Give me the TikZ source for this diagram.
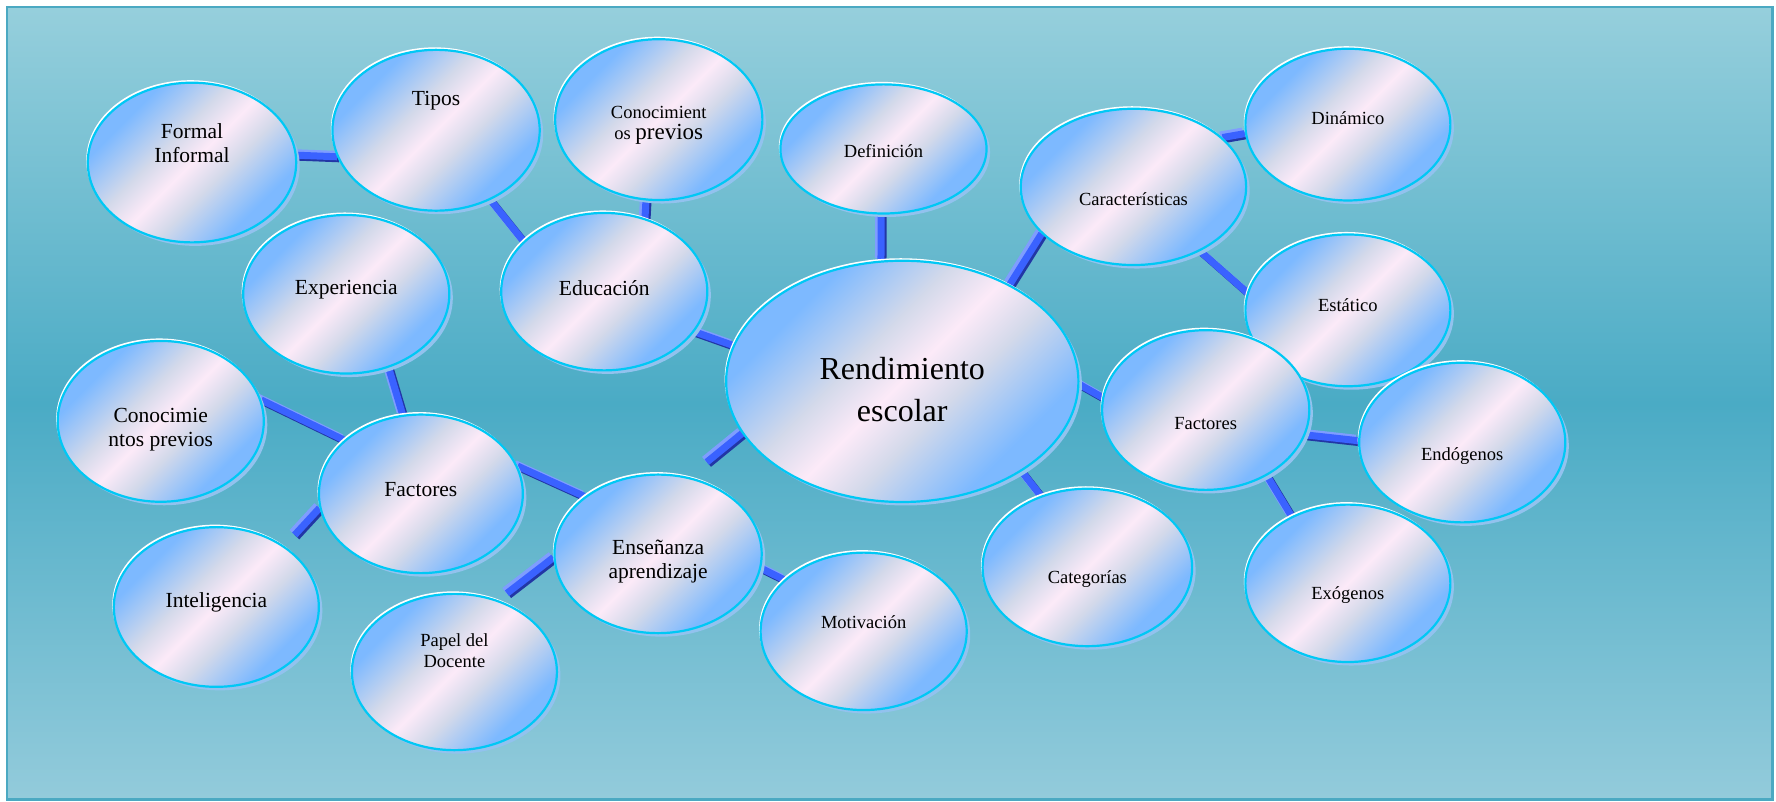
\documentclass[tikz,border=0pt]{standalone}
\usepackage{fontspec}
\setmainfont{Liberation Serif}
\usetikzlibrary{shapes.geometric,shadows}
\pgfdeclarelayer{bg}
\pgfdeclarelayer{conn}
\pgfsetlayers{bg,conn,main}
\def\pxu{1.1327}
\definecolor{bblue}{HTML}{7DB9FF}
\definecolor{bgray}{HTML}{D3D9EA}
\definecolor{bpink}{HTML}{FCEAF8}
\definecolor{ringc}{HTML}{00C8F5}
\definecolor{shadowc}{HTML}{92C2EE}
\definecolor{bgtop}{HTML}{96CFDC}
\definecolor{bgmid}{HTML}{4AABC5}
\definecolor{bgbot}{HTML}{93CBDB}
\definecolor{framec}{HTML}{4BA9C2}
\definecolor{barmain}{HTML}{3A62FF}
\definecolor{barlight}{HTML}{7F9DFF}
\definecolor{bardark}{HTML}{2236A5}
\pgfdeclarehorizontalshading{bubbleshade}{100bp}{color(0bp)=(bblue); color(29bp)=(bblue); color(42bp)=(bgray); color(50bp)=(bpink); color(58bp)=(bgray); color(71bp)=(bblue); color(100bp)=(bblue)}
\tikzset{
  bub/.style 2 args={ellipse, minimum width={2*#1*\pxu pt}, minimum height={2*#2*\pxu pt},
    inner sep=0pt, draw=ringc, line width=2.2pt, shading=bubbleshade, shading angle=-45,
    general shadow={fill=shadowc, shadow xshift=3.5pt, shadow yshift=-3.5pt},
    general shadow={fill=white, shadow xshift=-1.5pt, shadow yshift=2.5pt}},
  lbig/.style={font=\fontsize{21.5}{24.5}\selectfont, align=center, inner sep=0pt, text=black},
  lsmall/.style={font=\fontsize{18.5}{21.5}\selectfont, align=center, inner sep=0pt, text=black},
  lhuge/.style={font=\fontsize{32}{42}\selectfont, align=center, inner sep=0pt, text=black},
  bar/.style={line width=7pt, draw=barmain,
    preaction={draw=barlight, line width=7pt, transform canvas={shift={(-2.5pt,2.5pt)}}},
    preaction={draw=bardark, line width=7pt, transform canvas={shift={(2pt,-2pt)}}}},
}
\begin{document}
\begin{tikzpicture}[x=\pxu pt, y=-\pxu pt]
\useasboundingbox (0,0) rectangle (1568,708);
\begin{pgfonlayer}{bg}
\shade[top color=bgtop, bottom color=bgbot, middle color=bgmid] (6.2,6.2) rectangle (1565,706);
\draw[framec, line width=2.5pt] (6.2,6.2) rectangle (1565,706);
\end{pgfonlayer}

% nodes
\node[bub={92}{70.5}, label={[lbig,yshift={17*\pxu pt}]center:{Formal\\Informal}}] (formal) at (169.5,143.5) {};
\node[bub={91.5}{71}, label={[lbig,yshift={25.8*\pxu pt}]center:Tipos}] (tipos) at (385,115) {};
\node[bub={91.5}{71}, label={[lsmall,yshift={-5*\pxu pt}]center:{Conocimient\\os {\fontsize{23}{21.5}\selectfont previos}}}] (conoctop) at (581.6,105.6) {};
\node[bub={91}{57}, label={[lsmall,yshift={-1.6*\pxu pt}]center:Definición}] (def) at (780,131.5) {};
\node[bub={90.5}{67}, label={[lsmall,yshift={5.5*\pxu pt}]center:Dinámico}] (din) at (1190,110) {};
\node[bub={99.5}{69}, label={[lsmall,yshift={-11*\pxu pt}]center:Características}] (car) at (1000.7,165) {};
\node[bub={90.5}{67}, label={[lsmall,yshift={5*\pxu pt}]center:Estático}] (est) at (1190,274) {};
\node[bub={91}{70}, label={[lbig,yshift={3.7*\pxu pt}]center:Experiencia}] (exper) at (305.7,259.8) {};
\node[bub={91}{69.5}, label={[lbig,yshift={3.5*\pxu pt}]center:Educación}] (educ) at (533.5,257.5) {};
\node[bub={155.5}{106.5}, label={[lhuge,yshift={-7.3*\pxu pt}]center:{Rendimiento\\escolar}}] (rend) at (796.6,336.7) {};
\node[bub={91}{70.5}, label={[lsmall,yshift={-11.6*\pxu pt}]center:Endógenos}] (endo) at (1291,390.7) {};
\node[bub={91.5}{70.5}, label={[lsmall,yshift={-12*\pxu pt}]center:Factores}] (factR) at (1064.5,362) {};
\node[bub={90.5}{69.5}, label={[lsmall,yshift={-10*\pxu pt}]center:Exógenos}] (exo) at (1190,515) {};
\node[bub={92.5}{69.5}, label={[lsmall,yshift={-10.5*\pxu pt}]center:Categorías}] (cat) at (960,501) {};
\node[bub={91}{71}, label={[lbig,yshift={-7.2*\pxu pt}]center:{Conocimie\\ntos previos}}] (conocL) at (141.9,372) {};
\node[bub={90}{70}, label={[lbig,yshift={3.5*\pxu pt}]center:Factores}] (factL) at (371.6,436) {};
\node[bub={90.5}{70.5}, label={[lbig,yshift={4*\pxu pt}]center:Inteligencia}] (intel) at (191,535.9) {};
\node[bub={91.5}{70}, label={[lbig,yshift={-6.7*\pxu pt}]center:{Enseñanza\\aprendizaje}}] (ens) at (581,489) {};
\node[bub={90.5}{69}, label={[lsmall,yshift={18.7*\pxu pt}]center:{Papel del\\Docente}}] (papel) at (401.2,593.3) {};
\node[bub={91}{69.5}, label={[lsmall,yshift={8*\pxu pt}]center:Motivación}] (motiv) at (762.5,557.4) {};

\coordinate (stubA) at (624,408);
\coordinate (stubB) at (260.2,472.3);
\coordinate (stubC) at (447.6,523.8);

% connectors
\begin{pgfonlayer}{conn}
\draw[bar] (formal.4) -- (tipos.195);
\draw[bar] (tipos.308) -- (educ.148);
\draw[bar] (conoctop.261) -- (educ.61);
\draw[bar] (def.268) -- (rend.100);
\draw[bar] (car.207) -- (rend.42);
\draw[bar] (car.29) -- (din.185);
\draw[bar] (car.316) -- (est.170);
\draw[bar] (educ.336) -- (rend.168);
\draw[bar] (rend.359) -- (factR.173);
\draw[bar] (factR.346) -- (endo.179);
\draw[bar] (factR.313) -- (exo.130);
\draw[bar] (rend.323) -- (cat.123);
\draw[bar] (rend.198) -- (stubA);
\draw[bar] (exper.300) -- (factL.103);
\draw[bar] (conocL.12) -- (factL.145);
\draw[bar] (factL.188) -- (stubB);
\draw[bar] (factL.16) -- (ens.142);
\draw[bar] (ens.182) -- (stubC);
\draw[bar] (ens.352) -- (motiv.147);
\end{pgfonlayer}
\end{tikzpicture}
\end{document}
